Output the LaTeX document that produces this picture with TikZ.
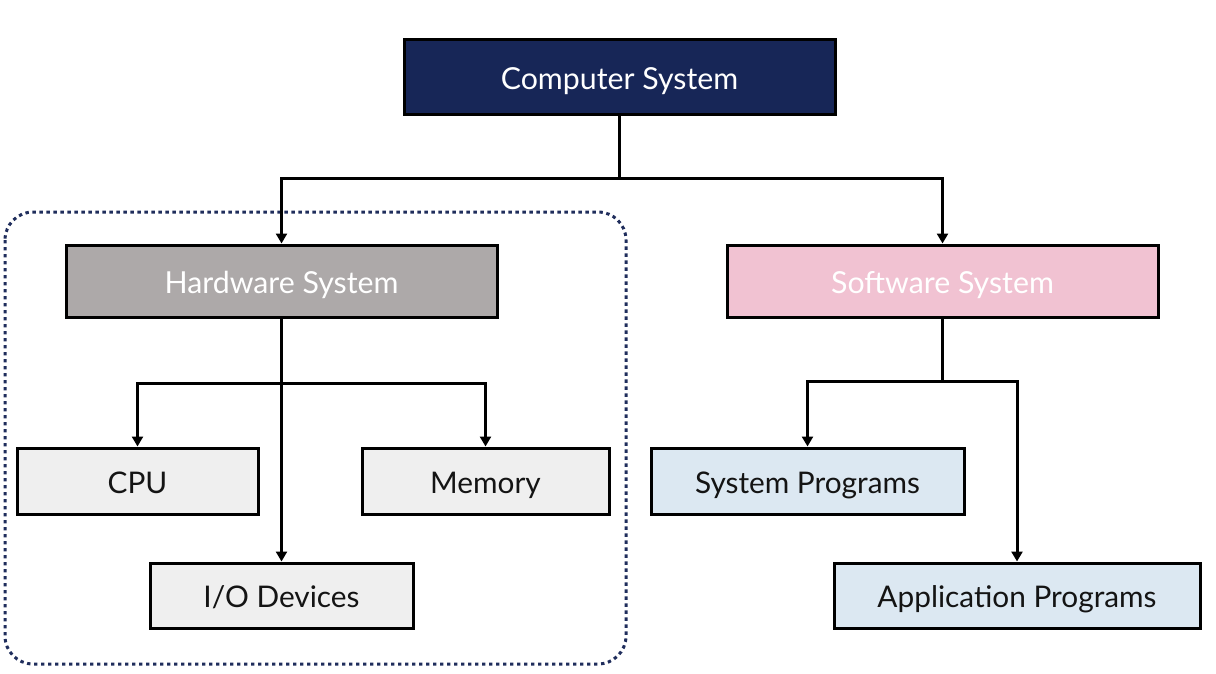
\documentclass[tikz,border=0pt]{standalone}
\usepackage{fontspec}
\setmainfont{Lato}
\usetikzlibrary{arrows.meta}
\definecolor{navy}{HTML}{172657}
\definecolor{hwgray}{HTML}{ADA9A9}
\definecolor{swpink}{HTML}{F1C2D2}
\definecolor{leafgray}{HTML}{EFEFEF}
\definecolor{leafblue}{HTML}{DCE8F2}
\definecolor{dotnavy}{HTML}{1F2D5C}
\begin{document}
\begin{tikzpicture}[x=1pt,y=-1pt,
  box/.style={draw=black,line width=3pt,rectangle,inner sep=0pt,anchor=center,text height=24pt,text depth=0pt},
  bigtext/.style={font=\fontsize{30.3}{36}\selectfont,text=white},
  leaftext/.style={font=\fontsize{29.8}{35}\selectfont,text=black!92},
  conn/.style={line width=3pt,draw=black},
  arr/.style={conn,-{Triangle[length=10pt,width=11pt]}}]
\useasboundingbox (0,0) rectangle (1216,674);
\fill[white] (0,0) rectangle (1216,674);
% dotted group frame
\draw[dotnavy,line width=3pt,dash pattern=on 3.4pt off 3.6pt,rounded corners=28pt] (5,212) rectangle (626,664);
% nodes
\node[box,fill=navy,minimum width=431pt,minimum height=75pt,bigtext] (cs) at (619.5,77.5) {Computer System};
\node[box,fill=hwgray,minimum width=431pt,minimum height=72pt,bigtext] (hw) at (281.5,281) {Hardware System};
\node[box,fill=swpink,minimum width=431pt,minimum height=72pt,bigtext] (sw) at (942.5,281) {Software System};
\node[box,fill=leafgray,minimum width=241pt,minimum height=66pt,leaftext] (cpu) at (137.5,481) {CPU};
\node[box,fill=leafgray,minimum width=247pt,minimum height=66pt,leaftext] (mem) at (485.5,481) {Memory};
\node[box,fill=leafgray,minimum width=263pt,minimum height=65pt,leaftext] (io) at (281.5,595.5) {I/O Devices};
\node[box,fill=leafblue,minimum width=313pt,minimum height=66pt,leaftext] (sp) at (807.5,481) {System Programs};
\node[box,fill=leafblue,minimum width=366pt,minimum height=65pt,leaftext] (ap) at (1017,595.5) {Application Programs};
% junctions
\coordinate (j1) at (619.5,179);
\coordinate (j2) at (281.5,383);
\coordinate (j3) at (942.5,381);
% connectors
\draw[conn] (cs.south) -- (j1);
\draw[arr] (j1) -| (hw.north);
\draw[arr] (j1) -| (sw.north);
\draw[arr] (hw.south) -- (io.north);
\draw[arr] (j2) -| (cpu.north);
\draw[arr] (j2) -| (mem.north);
\draw[conn] (sw.south) -- (j3);
\draw[arr] (j3) -| (sp.north);
\draw[arr] (j3) -| (ap.north);
\end{tikzpicture}
\end{document}
